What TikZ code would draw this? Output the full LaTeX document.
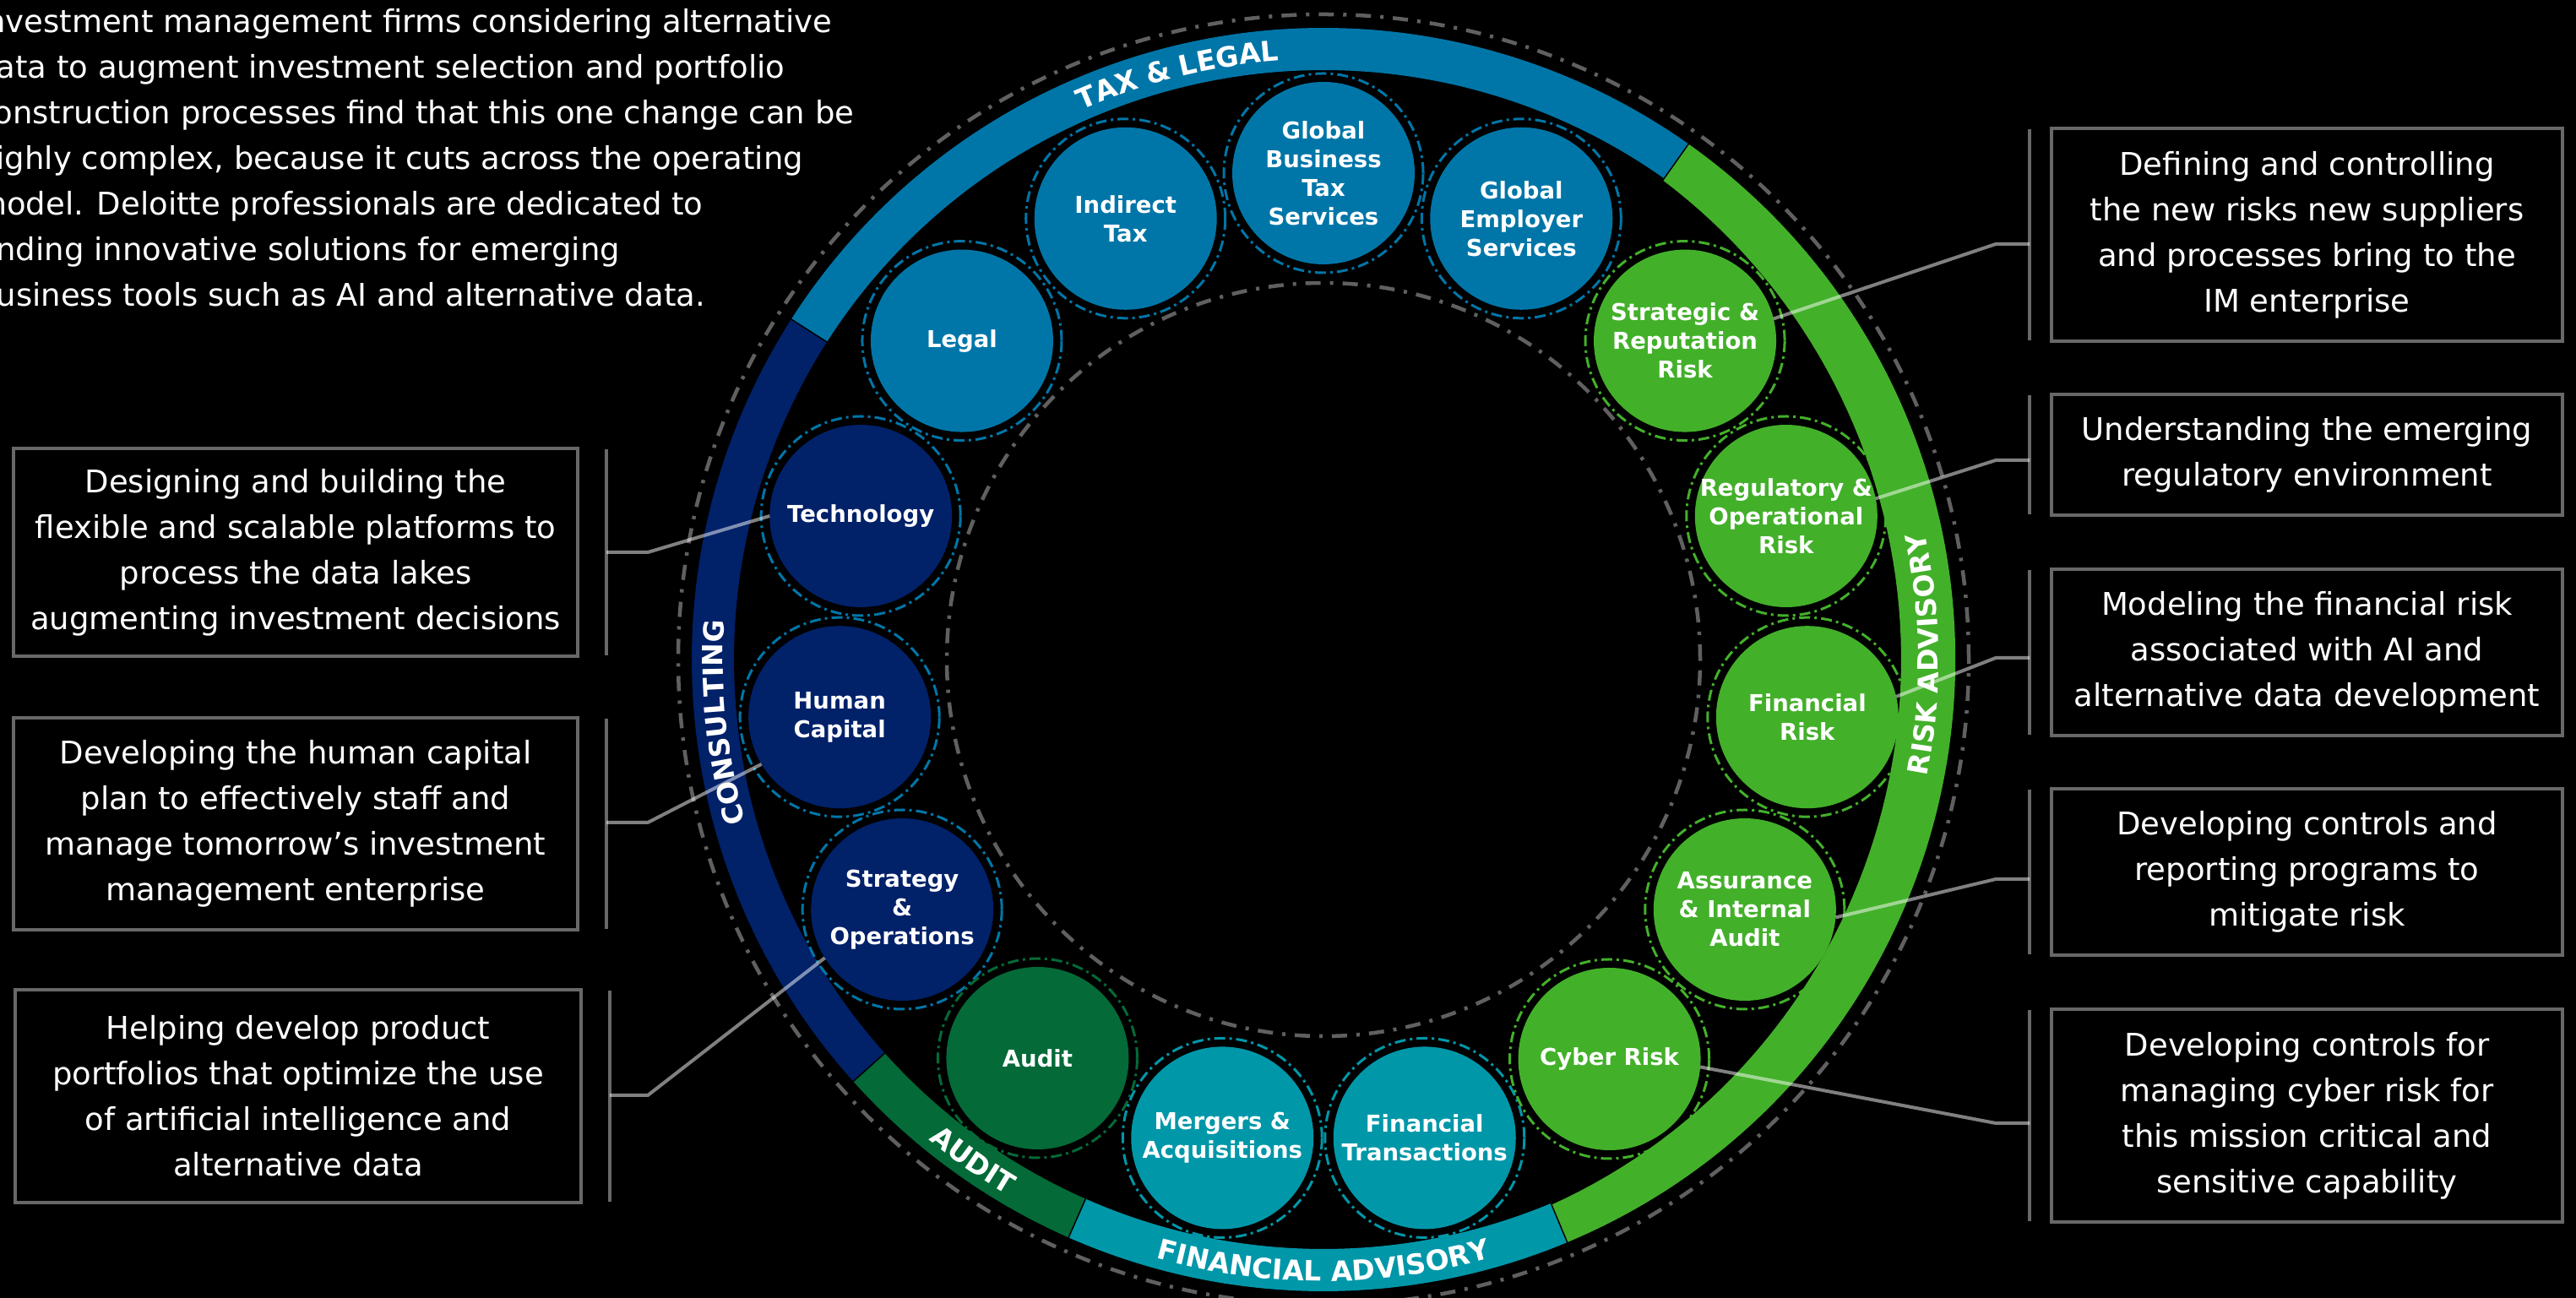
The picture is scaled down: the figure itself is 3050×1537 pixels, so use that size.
\documentclass[tikz,border=0pt]{standalone}
\usepackage{fontspec}
\setmainfont{DejaVu Sans}
\usetikzlibrary{decorations.text}
\definecolor{taxc}{HTML}{0076A8}
\definecolor{conc}{HTML}{012169}
\definecolor{audc}{HTML}{046A38}
\definecolor{fac}{HTML}{0097A9}
\definecolor{riskc}{HTML}{43B02A}
\definecolor{dashgray}{HTML}{606060}
\definecolor{boxgray}{HTML}{686868}
\newcommand\ringfont{\bfseries\fontsize{33}{33}\selectfont\color{white}}
\begin{document}
\begin{tikzpicture}[x=1pt,y=1pt,
  graydash/.style={draw=dashgray, line width=4.5pt, dash pattern=on 18pt off 11pt on 4pt off 11pt},
  bubble/.style={circle, minimum size=216pt, inner sep=0pt, outer sep=0pt},
  bring/.style={line width=3pt, dash pattern=on 13pt off 5pt on 3pt off 5pt},
  blbl/.style={text=white, font=\bfseries\fontsize{27.5}{34}\selectfont, align=center, inner sep=0pt},
  dbox/.style={draw=boxgray, line width=4pt, text=white, align=center, font=\fontsize{37}{54}\selectfont, inner sep=0pt, outer sep=0pt},
  brk/.style={draw=boxgray, line width=4pt},
  conn/.style={draw=white, draw opacity=0.5, line width=4pt},
  ringtext/.style={decorate, decoration={text along path, text align=center}}
]
\useasboundingbox (0,0) rectangle (3050,1537);
\fill[black] (0,0) rectangle (3050,1537);

\begin{scope}[shift={(1567,756)}]
  % outer dash-dot ring
  \draw[graydash] (0,0) circle[radius=764pt];
  % band segments
  \fill[taxc] (54.7:748pt) arc[start angle=54.7, end angle=147.4, radius=748pt]
     -- (147.4:698pt) arc[start angle=147.4, end angle=54.7, radius=698pt] -- cycle;
  \fill[conc] (147.4:748pt) arc[start angle=147.4, end angle=221.9, radius=748pt]
     -- (221.9:698pt) arc[start angle=221.9, end angle=147.4, radius=698pt] -- cycle;
  \fill[audc] (221.9:748pt) arc[start angle=221.9, end angle=246.2, radius=748pt]
     -- (246.2:698pt) arc[start angle=246.2, end angle=221.9, radius=698pt] -- cycle;
  \fill[fac] (246.2:748pt) arc[start angle=246.2, end angle=292.7, radius=748pt]
     -- (292.7:698pt) arc[start angle=292.7, end angle=246.2, radius=698pt] -- cycle;
  \fill[riskc] (-67.3:748pt) arc[start angle=-67.3, end angle=54.7, radius=748pt]
     -- plot[domain=54.7:-67.3, samples=80] (\x:{698-14*cos(\x*90/62)}) -- cycle;
  \foreach \a in {54.7,147.4,221.9,246.2,292.7}
    \draw[black, line width=1.5pt] (\a:680pt) -- (\a:750pt);
  % inner dash-dot circle
  \draw[graydash] (0,0) circle[radius=446pt];

  % ring labels
  \path[ringtext, decoration={text={|\ringfont|TAX {\&} LEGAL}}]
     (140:711pt) arc[start angle=140, end angle=68, radius=711pt];
  \path[ringtext, decoration={text={|\ringfont|CONSULTING}}]
     (222:711pt) arc[start angle=222, end angle=150, radius=711pt];
  \path[ringtext, decoration={text={|\ringfont|AUDIT}}]
     (200:736pt) arc[start angle=200, end angle=270, radius=736pt];
  \path[ringtext, decoration={text={|\ringfont|FINANCIAL ADVISORY}}]
     (230:736pt) arc[start angle=230, end angle=310, radius=736pt];
  \path[ringtext, decoration={text={|\ringfont|RISK ADVISORY}}]
     (-40:728pt) arc[start angle=-40, end angle=41, radius=728pt];

  % service circles
  \node[bubble, fill=taxc] (c0) at (90:576pt) {};
  \node[bubble, fill=taxc, yshift=-4pt] (c1) at (114:576pt) {};
  \node[bubble, fill=taxc, yshift=-8pt] (c2) at (138:576pt) {};
  \node[bubble, fill=conc, yshift=-8pt] (c3) at (162:576pt) {};
  \node[bubble, fill=conc, yshift=-8pt] (c4) at (186:576pt) {};
  \node[bubble, fill=conc, yshift=-8pt] (c5) at (210:576pt) {};
  \node[bubble, fill=audc, yshift=-6pt] (c6) at (234:576pt) {};
  \node[bubble, fill=fac, yshift=-3pt] (c7) at (258:576pt) {};
  \node[bubble, fill=fac, yshift=-3pt] (c8) at (282:576pt) {};
  \node[bubble, fill=riskc, yshift=-7pt] (c9) at (306:576pt) {};
  \node[bubble, fill=riskc, yshift=-8pt] (c10) at (330:576pt) {};
  \node[bubble, fill=riskc, yshift=-8pt] (c11) at (354:576pt) {};
  \node[bubble, fill=riskc, yshift=-8pt] (c12) at (18:576pt) {};
  \node[bubble, fill=riskc, yshift=-8pt] (c13) at (42:576pt) {};
  \node[bubble, fill=taxc, yshift=-4pt] (c14) at (66:576pt) {};
\end{scope}

% dash-dot rings round the circles
\foreach \n/\c in {c0/taxc,c1/taxc,c2/taxc,c3/taxc,c4/taxc,c5/taxc,c6/audc,c7/fac,c8/fac,c9/riskc,c10/riskc,c11/riskc,c12/riskc,c13/riskc,c14/taxc}
  \draw[bring, draw=\c] (\n.center) circle[radius=118pt];

% circle labels
\node[blbl] (t0) at (c0) {Global\\Business\\Tax\\Services};
\node[blbl] (t1) at (c1) {Indirect\\Tax};
\node[blbl] (t2) at (c2) {Legal};
\node[blbl] (t3) at (c3) {Technology};
\node[blbl] (t4) at (c4) {Human\\Capital};
\node[blbl] (t5) at (c5) {Strategy\\\&\\Operations};
\node[blbl] (t6) at (c6) {Audit};
\node[blbl] (t7) at (c7) {Mergers \&\\Acquisitions};
\node[blbl] (t8) at (c8) {Financial\\Transactions};
\node[blbl] (t9) at (c9) {Cyber Risk};
\node[blbl] (t10) at (c10) {Assurance\\\& Internal\\Audit};
\node[blbl] (t11) at (c11) {Financial\\Risk};
\node[blbl] (t12) at (c12) {Regulatory \&\\Operational\\Risk};
\node[blbl] (t13) at (c13) {Strategic \&\\Reputation\\Risk};
\node[blbl] (t14) at (c14) {Global\\Employer\\Services};

% intro paragraph
\begin{scope}
\clip (0,0) rectangle (3050,1537);
\node[anchor=north west, inner sep=0pt, text=white, align=left, font=\fontsize{37}{54}\selectfont] (intro) at (-28,1527)
 {Investment management firms considering alternative\\
  data to augment investment selection and portfolio\\
  construction processes find that this one change can be\\
  highly complex, because it cuts across the operating\\
  model. Deloitte professionals are dedicated to\\
  finding innovative solutions for emerging\\
  business tools such as AI and alternative data.};
\end{scope}

% description boxes
\node[dbox, minimum width=668pt, minimum height=246pt] (L1) at (350,883)
 {Designing and building the\\flexible and scalable platforms to\\process the data lakes\\augmenting investment decisions};
\node[dbox, minimum width=668pt, minimum height=251pt] (L2) at (350,561.5)
 {Developing the human capital\\plan to effectively staff and\\manage tomorrow’s investment\\management enterprise};
\node[dbox, minimum width=670pt, minimum height=252pt] (L3) at (353,239)
 {Helping develop product\\portfolios that optimize the use\\of artificial intelligence and\\alternative data};
\node[dbox, minimum width=605pt, minimum height=252pt] (R1) at (2731.5,1259)
 {Defining and controlling\\the new risks new suppliers\\and processes bring to the\\IM enterprise};
\node[dbox, minimum width=605pt, minimum height=143pt] (R2) at (2731.5,998.5)
 {Understanding the emerging\\regulatory environment};
\node[dbox, minimum width=605pt, minimum height=197pt] (R3) at (2731.5,764.5)
 {Modeling the financial risk\\associated with AI and\\alternative data development};
\node[dbox, minimum width=605pt, minimum height=197pt] (R4) at (2731.5,504.5)
 {Developing controls and\\reporting programs to\\mitigate risk};
\node[dbox, minimum width=605pt, minimum height=252pt] (R5) at (2731.5,216)
 {Developing controls for\\managing cyber risk for\\this mission critical and\\sensitive capability};

% brackets
\foreach \b in {L1,L2,L3}
  \draw[brk] ([xshift=34pt,yshift=-1pt]\b.north east) -- ([xshift=34pt,yshift=1pt]\b.south east);
\foreach \b in {R1,R2,R3,R4,R5}
  \draw[brk] ([xshift=-26pt,yshift=-1pt]\b.north west) -- ([xshift=-26pt,yshift=1pt]\b.south west);

% connectors
\coordinate (kL1) at (767,883);
\coordinate (kL2) at (767,563);
\coordinate (kL3) at (767,240);
\coordinate (kR1) at (2363,1248);
\coordinate (kR2) at (2363,992);
\coordinate (kR3) at (2363,758);
\coordinate (kR4) at (2363,496);
\coordinate (kR5) at (2363,207);
\draw[conn] ([xshift=34pt]L1.east) -- (kL1) -- (c3.180);
\draw[conn] ([xshift=34pt,yshift=1.5pt]L2.east) -- (kL2) -- (c4.211);
\draw[conn] ([xshift=34pt,yshift=1pt]L3.east) -- (kL3) -- (c5.212);
\draw[conn] (kR1 -| R1.west) ++(-26pt,0) -- (kR1) -- (c13.14);
\draw[conn] (kR2 -| R2.west) ++(-26pt,0) -- (kR2) -- (c12.11);
\draw[conn] (kR3 -| R3.west) ++(-26pt,0) -- (kR3) -- (c11.13);
\draw[conn] (kR4 -| R4.west) ++(-26pt,0) -- (kR4) -- (c10.-5);
\draw[conn] (kR5 -| R5.west) ++(-26pt,0) -- (kR5) -- (c9.-5);
\end{tikzpicture}
\end{document}
